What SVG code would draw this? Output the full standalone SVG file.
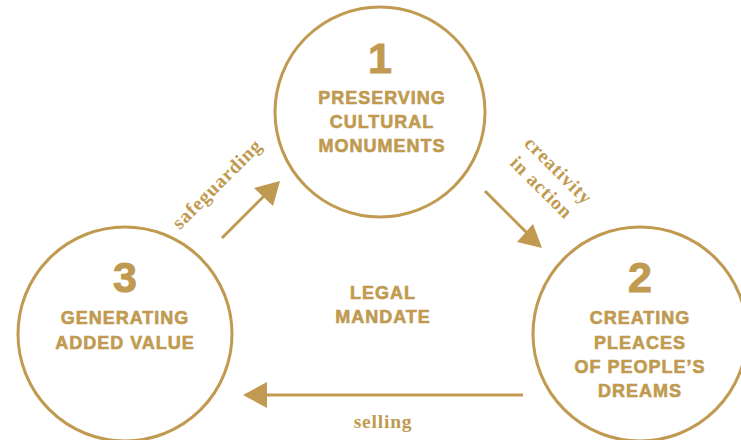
<svg xmlns="http://www.w3.org/2000/svg" width="741" height="440" viewBox="0 0 741 440">
<defs>
<style>
.c{fill:none;stroke:#BF9A50;stroke-width:3}
.n{font-family:"Liberation Sans",Arial,sans-serif;font-weight:bold;font-size:43px;fill:#BF9A50;stroke:#BF9A50;stroke-width:1;text-anchor:middle}
.t{font-family:"Liberation Sans",Arial,sans-serif;font-weight:bold;font-size:18px;letter-spacing:1px;fill:#BF9A50;stroke:#BF9A50;stroke-width:0.6;text-anchor:middle}
.s{font-family:"Liberation Serif","Times New Roman",serif;font-weight:bold;font-size:19.5px;letter-spacing:0.8px;fill:#BF9A50;text-anchor:middle}
.l{stroke:#BF9A50;stroke-width:3;fill:none}
.h{fill:#BF9A50}
</style>
</defs>
<rect width="741" height="440" fill="#fff"/>
<g id="node1">
<circle class="c" cx="380" cy="112" r="105"/>
<text class="n" x="380" y="73">1</text>
<text class="t" x="382" y="104">PRESERVING</text>
<text class="t" x="382" y="128">CULTURAL</text>
<text class="t" x="382" y="152">MONUMENTS</text>
</g>
<g id="node2">
<circle class="c" cx="640" cy="334" r="107"/>
<text class="n" x="640" y="292">2</text>
<text class="t" x="640" y="324">CREATING</text>
<text class="t" x="640" y="349">PLEACES</text>
<text class="t" x="640" y="373">OF PEOPLE’S</text>
<text class="t" x="640" y="397">DREAMS</text>
</g>
<g id="node3">
<circle class="c" cx="125" cy="334" r="107"/>
<text class="n" x="125" y="292">3</text>
<text class="t" x="125" y="324">GENERATING</text>
<text class="t" x="125" y="349">ADDED VALUE</text>
</g>
<g id="center">
<text class="t" x="383" y="299">LEGAL</text>
<text class="t" x="383" y="323">MANDATE</text>
</g>
<g id="connectors">
<line class="l" x1="222" y1="238" x2="264" y2="196"/>
<polygon class="h" points="280,181 254,188 273,206"/>
<line class="l" x1="485" y1="191" x2="527" y2="233"/>
<polygon class="h" points="542,248 517,242 533,224"/>
<line class="l" x1="523" y1="395" x2="262" y2="395"/>
<polygon class="h" points="243,395 267,382 267,408"/>
<text class="s" transform="translate(218,185) rotate(-45)" x="0" y="5">safeguarding</text>
<g transform="translate(549,180) rotate(45)">
<text class="s" x="0" y="-7">creativity</text>
<text class="s" x="0" y="17">in action</text>
</g>
<text class="s" x="383" y="428">selling</text>
</g>
</svg>
